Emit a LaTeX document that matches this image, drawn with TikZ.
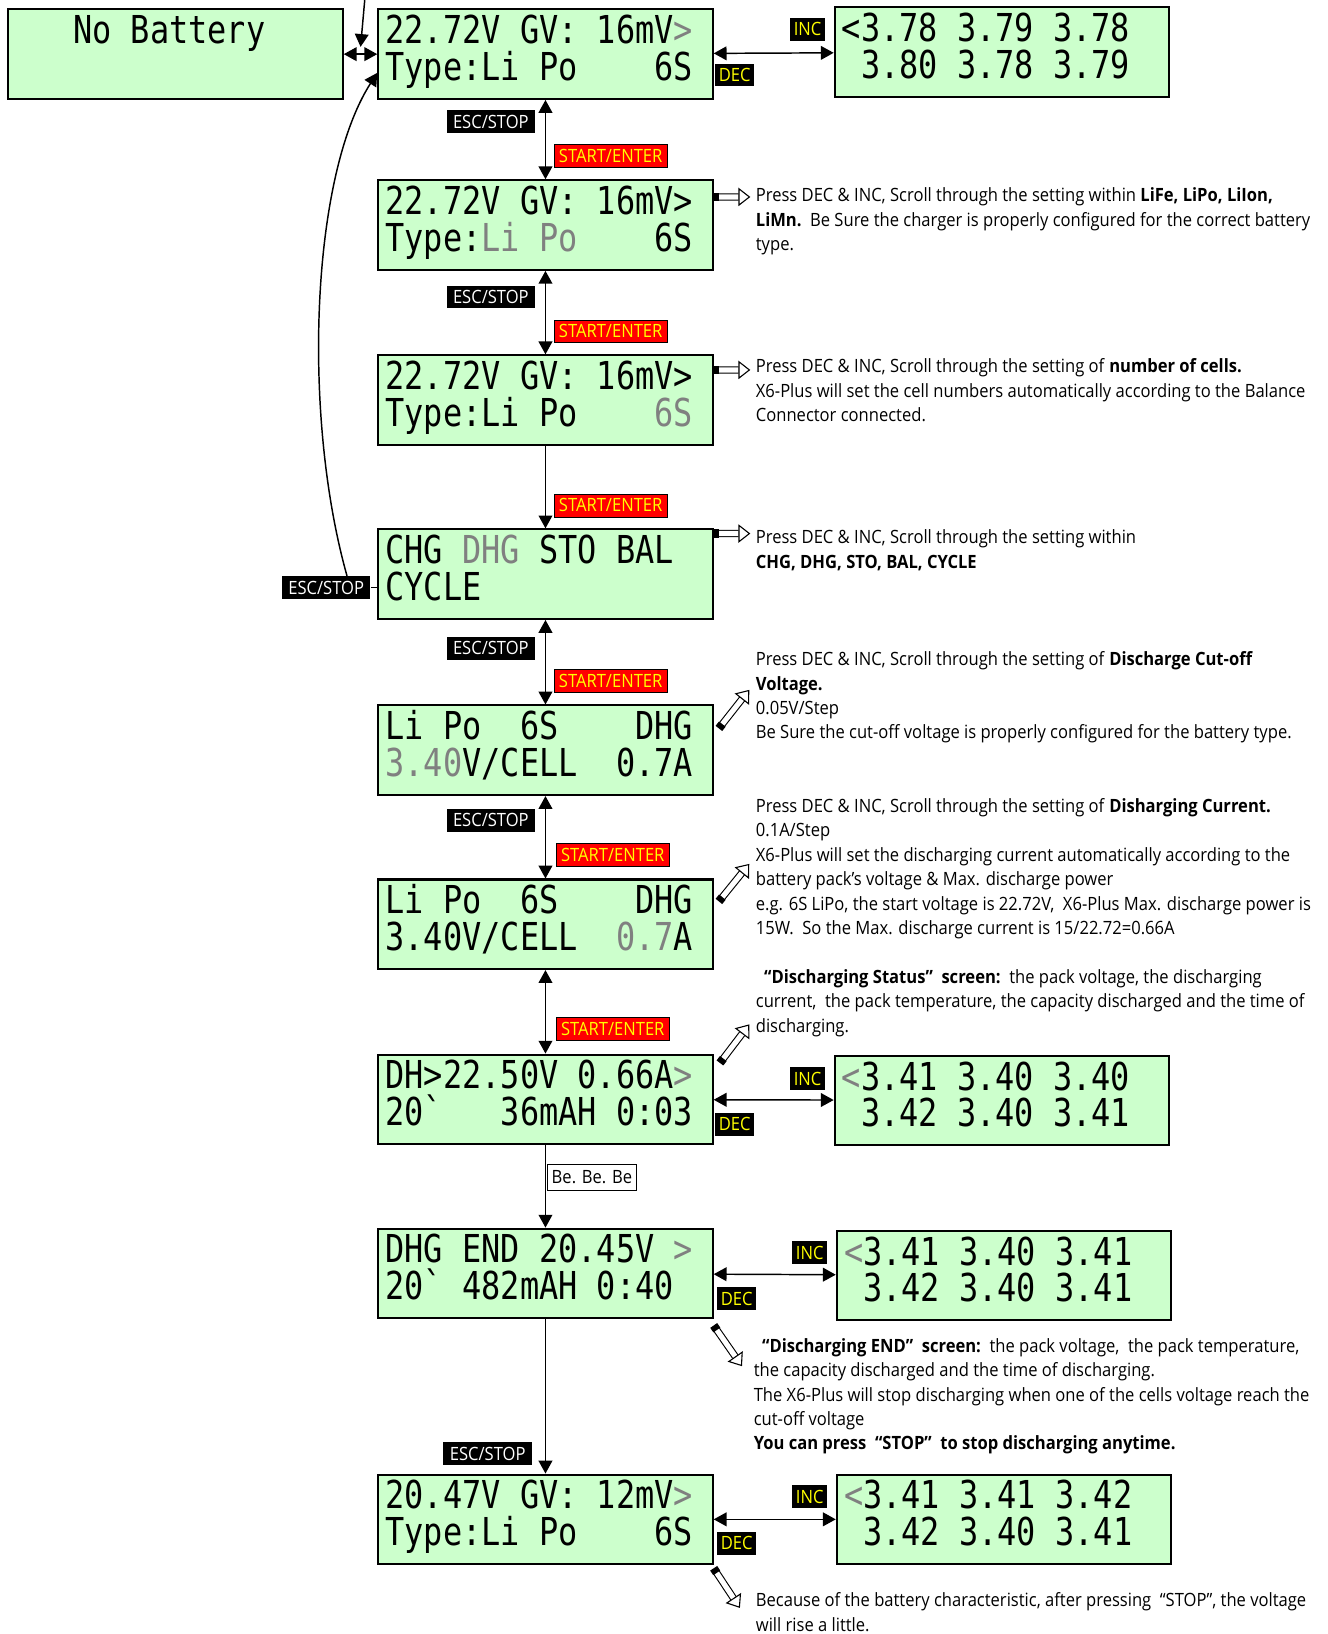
\documentclass[tikz,border=0pt]{standalone}
\usepackage{fontspec}
\usetikzlibrary{arrows.meta}
\setmainfont{Open Sans}[FakeStretch=0.905]
\newfontfamily\lcdfont{DejaVu Sans Mono}[FakeStretch=0.83,Ligatures=TeXOff]
\definecolor{lcdgreen}{RGB}{204,255,204}
\definecolor{lcdgray}{RGB}{128,128,128}
\definecolor{keyyellow}{RGB}{255,255,0}
\newcommand{\gry}[1]{\textcolor{lcdgray}{#1}}
\newcommand{\lsp}{\hphantom{0}}

\begin{document}
\begin{tikzpicture}[x=0.02cm,y=-0.02cm,>={Triangle[length=7pt,width=7.5pt]},
	lcd/.style={draw,line width=1.1pt,fill=lcdgreen,anchor=north west,
		minimum width=6.42cm,minimum height=1.72cm,text width=6.14cm,align=left,
		inner xsep=0.14cm,inner ysep=0pt,text height=0.66cm,text depth=1.06cm,
		font=\lcdfont\fontsize{21pt}{19.9pt}\selectfont},
	keylabel/.style={inner xsep=2.5pt,inner ysep=0pt,minimum height=0.44cm,
		font=\fontsize{10pt}{12pt}\selectfont},
	escbox/.style={keylabel,fill=black,text=white,inner xsep=3.5pt},
	entbox/.style={keylabel,fill=red,draw=black,text=keyyellow},
	incbox/.style={keylabel,fill=black,text=keyyellow,inner xsep=2pt},
	bebox/.style={keylabel,draw=black,fill=white,minimum height=0.5cm},
	note/.style={anchor=north west,align=left,inner sep=0pt,
		font=\fontsize{10pt}{13.3pt}\selectfont},
	hollow/.style={double=white,line width=0.6pt,double distance=2.8pt,
		{Rectangle[length=3pt,width=4.6pt]}-{Triangle[open,fill=white,length=6.5pt,width=10pt]}}]
		\path[fill=white] (0,0) rectangle (1274,1568);
		\useasboundingbox (0,0) rectangle (1274,1568);

		% screens
		\node[lcd] (nobat) at (7,8) {\lsp\lsp\lsp No\lsp Battery};
		\node[lcd] (s1) at (362,8) {22.72V\lsp GV:\lsp 16mV\gry{>}\\Type:Li\lsp Po\lsp\lsp\lsp\lsp 6S};
		\node[lcd] (c1) at (800,6) {<3.78\lsp 3.79\lsp 3.78\\\lsp 3.80\lsp 3.78\lsp 3.79};
		\node[lcd] (s2) at (362,172) {22.72V\lsp GV:\lsp 16mV>\\Type:\gry{Li\lsp Po}\lsp\lsp\lsp\lsp 6S};
		\node[lcd] (s3) at (362,340) {22.72V\lsp GV:\lsp 16mV>\\Type:Li\lsp Po\lsp\lsp\lsp\lsp\gry{6S}};
		\node[lcd] (s4) at (362,507) {CHG\lsp\gry{DHG}\lsp STO\lsp BAL\\CYCLE};
		\node[lcd] (s5) at (362,676) {Li\lsp Po\lsp\lsp 6S\lsp\lsp\lsp\lsp DHG\\\gry{3.40}V/CELL\lsp\lsp 0.7A};
		\node[lcd] (s6) at (362,843) {Li\lsp Po\lsp\lsp 6S\lsp\lsp\lsp\lsp DHG\\3.40V/CELL\lsp\lsp\gry{0.7}A};
		\node[lcd] (s7) at (362,1011) {DH>22.50V\lsp 0.66A\gry{>}\\20`\lsp\lsp\lsp 36mAH\lsp 0:03};
		\node[lcd] (c7) at (800,1012) {\gry{<}3.41\lsp 3.40\lsp 3.40\\\lsp 3.42\lsp 3.40\lsp 3.41};
		\node[lcd] (s8) at (362,1178) {DHG\lsp END\lsp 20.45V\lsp\gry{>}\\20`\lsp 482mAH\lsp 0:40};
		\node[lcd] (c8) at (802,1180) {\gry{<}3.41\lsp 3.40\lsp 3.41\\\lsp 3.42\lsp 3.40\lsp 3.41};
		\node[lcd] (s9) at (362,1414) {20.47V\lsp GV:\lsp 12mV\gry{>}\\Type:Li\lsp Po\lsp\lsp\lsp\lsp 6S};
		\node[lcd] (c9) at (802,1414) {\gry{<}3.41\lsp 3.41\lsp 3.42\\\lsp 3.42\lsp 3.40\lsp 3.41};

		% key labels
		\node[escbox] (esc12) at (471,117) {ESC/STOP};
		\node[entbox] (ent12) at (586,150) {START/ENTER};
		\node[escbox] (esc23) at (471,285) {ESC/STOP};
		\node[entbox] (ent23) at (586,318) {START/ENTER};
		\node[entbox] (ent34) at (586,485) {START/ENTER};
		\node[escbox] (esc45) at (471,622) {ESC/STOP};
		\node[entbox] (ent45) at (586,653) {START/ENTER};
		\node[escbox] (esc56) at (471,787) {ESC/STOP};
		\node[entbox] (ent56) at (588,820) {START/ENTER};
		\node[entbox] (ent67) at (588,987) {START/ENTER};
		\node[bebox] (be78) at (568,1130) {Be. Be. Be};
		\node[escbox] (esc89) at (468,1395) {ESC/STOP};
		\node[escbox] (escback) at (313,564) {ESC/STOP};
		\node[incbox] (inc1) at (775,28) {INC};
		\node[incbox] (dec1) at (705,72) {DEC};
		\node[incbox] (inc7) at (775,1035) {INC};
		\node[incbox] (dec7) at (705,1079) {DEC};
		\node[incbox] (inc8) at (777,1202) {INC};
		\node[incbox] (dec8) at (707,1246) {DEC};
		\node[incbox] (inc9) at (777,1436) {INC};
		\node[incbox] (dec9) at (707,1481) {DEC};

		% notes
		\node[note] (d2) at (725,180) {Press DEC \& INC, Scroll through the setting within \textbf{LiFe, LiPo, LiIon,}\\
			\textbf{LiMn.}\ \ Be Sure the charger is properly configured for the correct battery\\type.};
		\node[note] (d3) at (725,344) {Press DEC \& INC, Scroll through the setting of \textbf{number of cells.}\\
			X6-Plus will set the cell numbers automatically according to the Balance\\Connector connected.};
		\node[note] (d4) at (725,508) {Press DEC \& INC, Scroll through the setting within\\
			\textbf{CHG, DHG, STO, BAL, CYCLE}};
		\node[note] (d5) at (725,625) {Press DEC \& INC, Scroll through the setting of \textbf{Discharge Cut-off}\\
			\textbf{Voltage.}\\0.05V/Step\\Be Sure the cut-off voltage is properly configured for the battery type.};
		\node[note] (d6) at (725,766) {Press DEC \& INC, Scroll through the setting of \textbf{Disharging Current.}\\
			0.1A/Step\\X6-Plus will set the discharging current automatically according to the\\
			battery pack's voltage \& Max. discharge power\\
			e.g. 6S LiPo, the start voltage is 22.72V,\ \ X6-Plus Max. discharge power is\\
			15W.\ \ So the Max. discharge current is 15/22.72=0.66A};
		\node[note] (d7) at (725,930) {\hspace*{0.16cm}\textbf{“Discharging Status”\ \ screen:}\ \ the pack voltage, the discharging\\
			current,\ \ the pack temperature, the capacity discharged and the time of\\discharging.};
		\node[note] (d8) at (723,1284) {\hspace*{0.16cm}\textbf{“Discharging END”\ \ screen:}\ \ the pack voltage,\ \ the pack temperature,\\
			the capacity discharged and the time of discharging.\\
			The X6-Plus will stop discharging when one of the cells voltage reach the\\
			cut-off voltage\\\textbf{You can press\ \ “STOP”\ \ to stop discharging anytime.}};
		\node[note] (d9) at (725,1528) {Because of the battery characteristic, after pressing\ \ “STOP", the voltage\\
			will rise a little.};

		% connectors
		\coordinate (topin) at (350,0);
		\coordinate (junc) at (346,45);
		\draw[->,style=thick] (topin) -- (junc);
		\draw[<->,style=thick] (nobat) -- (s1);
		\draw[<->,style=thick] (s1) -- (c1);
		\draw[<->,style=thick] (s1.south) -- (s2.north);
		\draw[<->,style=thick] (s2.south) -- (s3.north);
		\draw[->,style=thick] (s3.south) -- (s4.north);
		\draw[<->,style=thick] (s4.south) -- (s5.north);
		\draw[<->,style=thick] (s5.south) -- (s6.north);
		\draw[<->,style=thick] (s6.south) -- (s7.north);
		\draw[->,style=thick] (s7.south) -- (s8.north);
		\draw[->,style=thick] (s8.south) -- (s9.north);
		\draw[<->,style=thick] (s7) -- (c7);
		\draw[<->,style=thick] (s8) -- (c8);
		\draw[<->,style=thick] (s9) -- (c9);
		\draw[style=thick] (escback.east) -- (escback.east -| s4.west);
		\draw[->,style=thick] ([xshift=0.4cm]escback.north) .. controls (290,400) and (298,170) .. ([yshift=0.52cm]s1.south west);

		% hints
		\draw[hollow] ([yshift=-0.34cm]s2.north east) -- ([xshift=-0.1cm,yshift=-0.18cm]d2.north west);
		\draw[hollow] ([yshift=-0.3cm]s3.north east) -- ([xshift=-0.1cm,yshift=-0.22cm]d3.north west);
		\draw[hollow] ([yshift=-0.1cm]s4.north east) -- ([xshift=-0.1cm,yshift=-0.08cm]d4.north west);
		\draw[hollow] ([xshift=0.1cm,yshift=-0.46cm]s5.north east) -- ([xshift=-0.12cm,yshift=-0.74cm]d5.north west);
		\draw[hollow] ([xshift=0.1cm,yshift=-0.44cm]s6.north east) -- ([xshift=-0.12cm,yshift=-1.26cm]d6.north west);
		\draw[hollow] ([xshift=0.12cm,yshift=-0.18cm]s7.north east) -- ([xshift=-0.12cm,yshift=-1.06cm]d7.north west);
		\draw[hollow] ([yshift=-0.12cm]s8.south east) -- ([xshift=-0.22cm,yshift=-0.54cm]d8.north west);
		\draw[hollow] ([yshift=-0.06cm]s9.south east) -- ([xshift=-0.3cm,yshift=-0.3cm]d9.north west);
\end{tikzpicture}
\end{document}
